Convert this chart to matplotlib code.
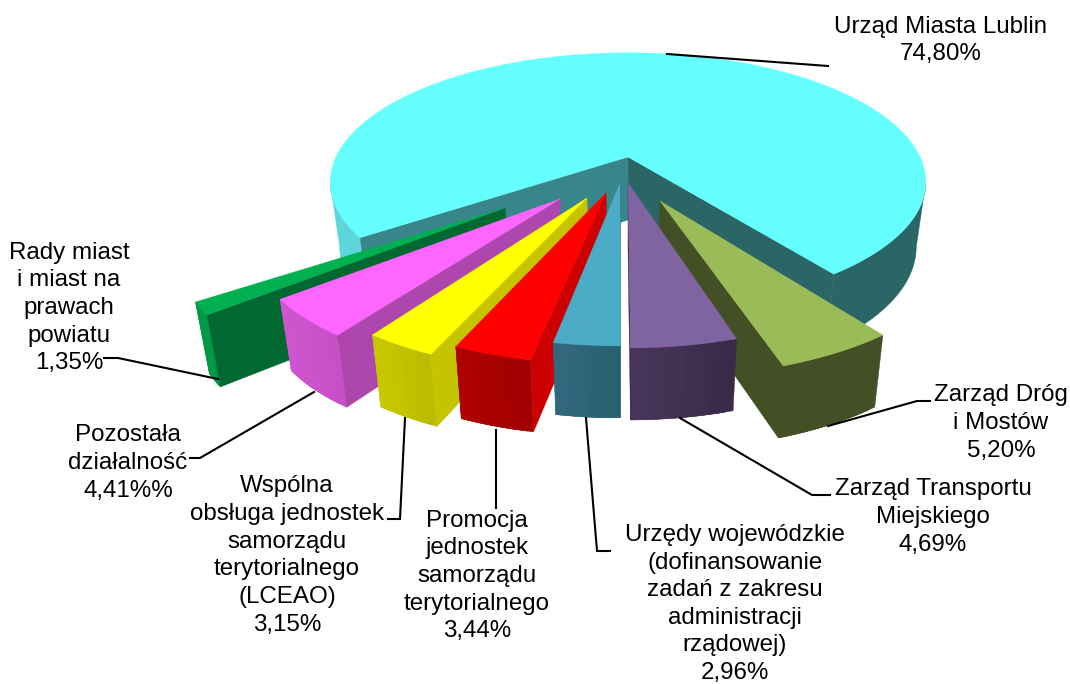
import numpy as np
import matplotlib
matplotlib.use('Agg')
import matplotlib.pyplot as plt
from matplotlib.patches import Polygon

plt.rcParams['font.family'] = ['Liberation Sans', 'DejaVu Sans']

names = ['Urząd Miasta Lublin', 'Zarząd Dróg\ni Mostów', 'Zarząd Transportu\nMiejskiego',
         'Urzędy wojewódzkie\n(dofinansowanie\nzadań z zakresu\nadministracji\nrządowej)',
         'Promocja\njednostek\nsamorządu\nterytorialnego',
         'Wspólna\nobsługa jednostek\nsamorządu\nterytorialnego\n(LCEAO)',
         'Pozostała\ndziałalność', 'Rady miast\ni miast na\nprawach\npowiatu']
values = [74.80, 5.20, 4.69, 2.96, 3.44, 3.15, 4.41, 1.35]
value_text = ['74,80%', '5,20%', '4,69%', '2,96%', '3,44%', '3,15%', '4,41%%', '1,35%']

top_col = ['#66FFFF', '#9BBB59', '#8064A2', '#4BACC6', '#FF0000', '#FFFF00', '#FF66FF', '#00B050']
wall_a = ['#5CD6DA', '#434F24', '#3A2A48', '#27606F', '#A00000', '#BCBC00', '#C650C6', '#009A46']
wall_b = ['#2A6666', '#434F24', '#47365A', '#33697F', '#B00000', '#C8C800', '#CF55CF', '#009A46']
side_col = ['#38858A', '#434F24', '#3A2A48', '#33697F', '#CC0000', '#C4C400', '#AD47AD', '#006830']

# exploded offsets on the pie disc, slice radius and small rotation, fitted by eye
ex = [0, 0.1024, 0.0, -0.0263, -0.0712, -0.1318, -0.218, -0.389]
ey = [0, 0.329, 0.2, 0.2, 0.272, 0.308, 0.315, 0.377]
rad = [1, 0.97, 0.97, 0.96, 0.97, 0.97, 0.97, 0.99]
rot = [0, -0.1, 0.4, 0.4, 0.9, 0.9, 1.4, 0.9]

label_x = [941, 1001, 933, 735, 477, 287, 128, 69]
label_y = [40.5, 423, 517, 604, 576, 555.5, 463, 308]
leaders = [[(667, 54), (828, 66)],
           [(828, 426), (917, 401), (930, 401)],
           [(680, 418), (812, 495), (830, 495)],
           [(586, 418), (597, 551), (610, 551)],
           [(496, 430), (496, 508)],
           [(405, 418), (400, 519), (388, 519)],
           [(314, 392), (200, 458), (190, 458)],
           [(218, 379), (118, 358), (104, 358)]]

cx, cy = 628, 157
R, Rt, d = 292, 125, 5.0
start = 143.6
fsize = 17.33
lspace = 1.333
bands = 12


def project(X, Y):
    f = d / (d - Y)
    return cx + R * X * f, cy + Rt * Y * f


def drop(x, y, Y):
    # bottom edge of the wall under a top-face point
    return cx + (x - cx) * 0.968, y + 63 + 9 * np.clip(Y, 0, 1)


def mix(c1, c2, t):
    a = np.array(matplotlib.colors.to_rgb(c1))
    b = np.array(matplotlib.colors.to_rgb(c2))
    return a + (b - a) * t


def poly(ax, pts, col, z):
    ax.add_patch(Polygon(pts, closed=True, facecolor=col, edgecolor=col, linewidth=0.3, zorder=z))


def side_wall(ax, X0, Y0, X1, Y1, col, z):
    x0, y0 = project(X0, Y0)
    x1, y1 = project(X1, Y1)
    poly(ax, [(x0, y0), (x1, y1), drop(x1, y1, Y1), drop(x0, y0, Y0)], col, z)


def outer_wall(ax, px, py, Y, col, z):
    bx, by = drop(px, py, Y)
    poly(ax, list(zip(px, py)) + list(zip(bx[::-1], by[::-1])), col, z)


def draw_slice(ax, a0, a1, i, z):
    # a0, a1 clockwise from 12 o'clock
    t = np.radians(np.linspace(a0, a1, 480))
    X = ex[i] + rad[i] * np.sin(t)
    Y = ey[i] - rad[i] * np.cos(t)
    if i == 0:
        Y = np.where(Y > 0, Y * 0.98, Y)
    px, py = project(X, Y)
    if i == 0:
        # the wall only shows from the widest point of the rim forward
        wl = np.argmin(px)
        wr = np.argmax(px)
        outer_wall(ax, px[:wl + 1], py[:wl + 1], Y[:wl + 1], wall_a[0], z)
        outer_wall(ax, px[wr:], py[wr:], Y[wr:], wall_b[0], z)
        side_wall(ax, 0, 0, X[-1], Y[-1], wall_b[0], z + 0.1)
        side_wall(ax, 0, 0, X[0], Y[0], side_col[0], z + 0.1)
    else:
        # bands overlap the next one so no seam shows between them
        edges = np.linspace(0, len(t) - 1, bands + 1).astype(int)
        for k in range(bands):
            s = edges[k]
            e = edges[k + 2] if k < bands - 1 else edges[-1]
            col = mix(wall_a[i], wall_b[i], k / (bands - 1))
            outer_wall(ax, px[s:e + 1], py[s:e + 1], Y[s:e + 1], col, z + k * 0.001)
        if (a0 + a1) / 2 < 178:
            side_wall(ax, ex[i], ey[i], X[-1], Y[-1], side_col[i], z + 0.1)
        else:
            side_wall(ax, ex[i], ey[i], X[0], Y[0], side_col[i], z + 0.1)
    tip = project(ex[i], ey[i])
    poly(ax, [tip] + list(zip(px, py)), top_col[i], z + 0.2)


fig = plt.figure(figsize=(10.7, 6.84), dpi=100)
ax = fig.add_axes([0, 0, 1, 1])
ax.set_xlim(0, 1070)
ax.set_ylim(684, 0)
ax.axis('off')

# angles follow the values, clockwise
sweep = np.array(values) / sum(values) * 360
draw_slice(ax, start - sweep[0], start, 0, 1)
a = start
spans = [None]
for v in sweep[1:]:
    spans.append((a, a + v))
    a += v
order = [7, 6, 5, 4, 1, 2, 3]
for n, i in enumerate(order):
    draw_slice(ax, spans[i][0] + rot[i], spans[i][1] + rot[i], i, 2 + n)

for pts in leaders:
    ax.plot([p[0] for p in pts], [p[1] for p in pts], color='black', lw=1.5, zorder=20,
            solid_joinstyle='miter')

for i in range(len(names)):
    ax.text(label_x[i], label_y[i], names[i] + '\n' + value_text[i], ha='center', va='center',
            fontsize=fsize, linespacing=lspace, color='black', zorder=21)

fig.savefig('out.png', dpi=100)
